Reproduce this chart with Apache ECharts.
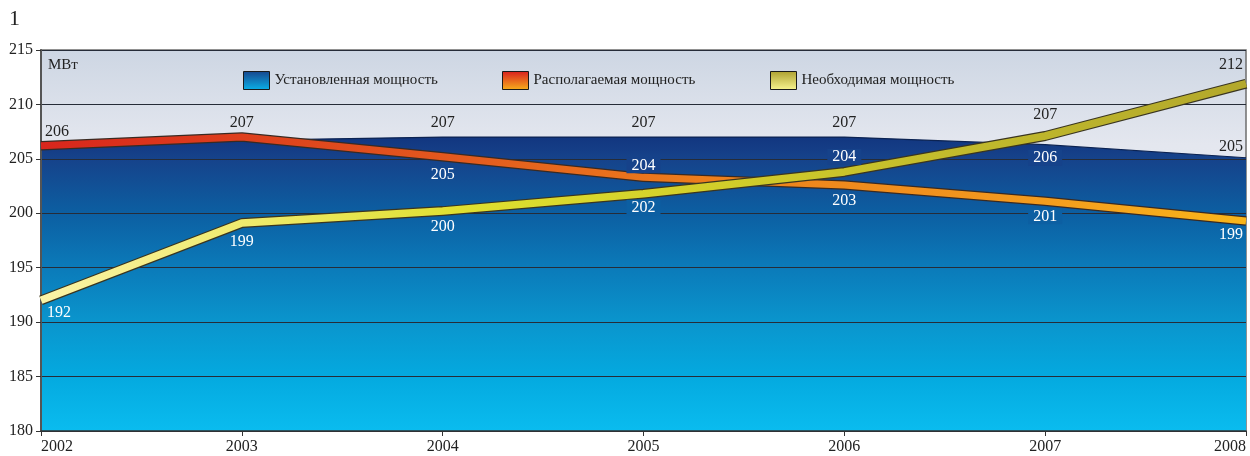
<!DOCTYPE html>
<html><head><meta charset="utf-8">
<script src="https://cdn.jsdelivr.net/npm/echarts@6/dist/echarts.min.js"></script>
<style>html,body{margin:0;padding:0;background:#fff}#c{width:1250px;height:456px}</style>
</head><body><div id="c"></div>
<script>
// ---- data ----
const years = ['2002', '2003', '2004', '2005', '2006', '2007', '2008'];
const installed = [205.9, 206.7, 207.0, 207.0, 207.0, 206.3, 205.1];
const available = [206.2, 207.0, 205.2, 203.3, 202.6, 201.1, 199.3];
const required  = [192.0, 199.1, 200.2, 201.8, 203.8, 207.1, 211.9];
const installedLabels = [null, null, 207, 207, 207, 206, 205];
const availableLabels = [206, 207, 205, 204, 203, 201, 199];
const requiredLabels  = [192, 199, 200, 202, 204, 207, 212];
const seriesNames = ['Установленная мощность', 'Располагаемая мощность', 'Необходимая мощность'];
const yMin = 180, yMax = 215, yStep = 5;
const chartTitle = '1';
const unitText = 'МВт';

// ---- styles ----
const FONT = 'Liberation Serif';
const DARK = '#222', WHITE = '#fff';
const BG205 = '#16428a', BG200 = '#0c5fa2';
function lg(dir, stops) {
  const c = dir === 'v' ? {x: 0, y: 0, x2: 0, y2: 1} : {x: 0, y: 0, x2: 1, y2: 0};
  return Object.assign({type: 'linear', global: false, colorStops: stops.map((s) => ({offset: s[0], color: s[1]}))}, c);
}
function lab(pos, dist, color, extra) {
  return Object.assign({show: true, position: pos, distance: dist, color: color,
    fontFamily: FONT, fontSize: 16}, extra || {});
}
const L = {align: 'left', offset: [4, 0]};
const R = {align: 'right', offset: [-3, 0]};
function bg(c) { return {backgroundColor: c, padding: [0, 5]}; }

const installedLabelStyle = [null, null,
  lab('top', 6, DARK), lab('top', 6, DARK), lab('top', 6, DARK),
  lab('bottom', 5, WHITE, bg(BG205)), lab('top', 3, DARK, R)];
const availableLabelStyle = [
  lab('top', 6, DARK, L), lab('top', 6, DARK),
  lab('bottom', 10, WHITE), lab('top', 4, WHITE, bg(BG205)), lab('bottom', 8, WHITE),
  lab('bottom', 7, WHITE, bg(BG200)), lab('bottom', 6, WHITE, R)];
const requiredLabelStyle = [
  lab('bottom', 4, WHITE, {align: 'left', offset: [6, 0]}), lab('bottom', 11, WHITE),
  lab('bottom', 8, WHITE), lab('bottom', 6, WHITE, bg(BG200)), lab('top', 7, WHITE, bg(BG205)),
  lab('top', 13, DARK), lab('top', 11, DARK, R)];

function withLabels(values, texts, styles) {
  return values.map((v, i) => {
    if (texts[i] == null || !styles[i]) return {value: v, label: {show: false}};
    const t = String(texts[i]);
    return {value: v, label: Object.assign({}, styles[i], {formatter: () => t})};
  });
}

const areaGrad = lg('v', [[0, '#123680'], [0.07, '#16428a'], [0.26, '#0c5fa2'], [0.44, '#0b7ab9'], [0.63, '#0a95cd'], [0.81, '#04a9df'], [1, '#0abcef']]);
const redGrad = lg('h', [[0, '#d8261c'], [0.35, '#e35a1e'], [0.55, '#ec7e1c'], [0.8, '#f3981e'], [1, '#f9b61a']]);
const yelGrad = lg('h', [[0, '#fbf3a8'], [0.18, '#eeea6a'], [0.35, '#dfdf30'], [0.55, '#d2cf2a'], [0.75, '#c2bb2c'], [1, '#b3a82c']]);

const labelSeriesBase = {symbol: 'circle', symbolSize: 0, showSymbol: true, showAllSymbol: true};

const option = {
  animation: false,
  title: [
    {text: chartTitle, left: 4, top: 3, textStyle: {fontFamily: FONT, fontSize: 22, fontWeight: 'normal', color: '#222'}},
    {text: unitText, left: 43, top: 53, textStyle: {fontFamily: FONT, fontSize: 15, fontWeight: 'normal', color: '#222'}}
  ],
  legend: [0, 1, 2].map((k) => ({
    left: [238, 497, 765][k], top: 66, itemWidth: 26, itemHeight: 18, selectedMode: false,
    textStyle: {fontFamily: FONT, fontSize: 15, color: '#222'},
    data: [{
      name: seriesNames[k], icon: 'rect',
      itemStyle: {
        color: [lg('v', [[0, '#17458c'], [1, '#0ab0e8']]), lg('v', [[0, '#d81e1e'], [1, '#f8b01c']]), lg('v', [[0, '#ada030'], [1, '#f8f590']])][k],
        borderColor: '#1a1a1a', borderWidth: 1
      }
    }]
  })),
  grid: {left: 41, right: 4, top: 50, bottom: 25, show: true, borderColor: '#6e6e6e', borderWidth: 1.5,
    backgroundColor: lg('v', [[0, '#cdd6e3'], [0.25, '#e4e7ef'], [1, '#eceef3']])},
  xAxis: {
    type: 'category', data: years, boundaryGap: false, z: 2,
    axisLine: {show: true, lineStyle: {color: '#333', width: 1.5}},
    axisTick: {show: true, length: 5, lineStyle: {color: '#333'}},
    axisLabel: {fontFamily: FONT, fontSize: 16, color: '#222', margin: 8, alignMinLabel: 'left', alignMaxLabel: 'right'},
    splitLine: {show: false}
  },
  yAxis: {
    type: 'value', min: yMin, max: yMax, interval: yStep, z: 2,
    axisLine: {show: true, lineStyle: {color: '#555', width: 2}},
    axisTick: {show: true, length: 5, lineStyle: {color: '#333'}},
    axisLabel: {fontFamily: FONT, fontSize: 16, color: '#222', margin: 8},
    splitLine: {show: true, lineStyle: {color: '#262c38', width: 1.2}}
  },
  series: [
    {name: seriesNames[0], type: 'line', z: 1, data: installed, symbol: 'none',
      lineStyle: {color: '#0c2352', width: 1.2}, areaStyle: {color: areaGrad, opacity: 1}, itemStyle: {color: '#15408a'}},
    {name: 'o1', type: 'line', z: 3, data: available, symbol: 'none', silent: true,
      lineStyle: {color: '#3a2a22', width: 9.5}},
    Object.assign({name: seriesNames[1], type: 'line', z: 4, data: withLabels(available, availableLabels, availableLabelStyle),
      lineStyle: {color: redGrad, width: 7}, itemStyle: {color: '#e35a1e'}}, labelSeriesBase),
    {name: 'o2', type: 'line', z: 5, data: required, symbol: 'none', silent: true,
      lineStyle: {color: '#3a3520', width: 10}},
    Object.assign({name: seriesNames[2], type: 'line', z: 6, data: withLabels(required, requiredLabels, requiredLabelStyle),
      lineStyle: {color: yelGrad, width: 7.5}, itemStyle: {color: '#d2cf2a'}}, labelSeriesBase),
    Object.assign({name: 'l1', type: 'line', z: 7, data: withLabels(installed, installedLabels, installedLabelStyle), silent: true,
      lineStyle: {opacity: 0, width: 0}, itemStyle: {color: '#15408a'}}, labelSeriesBase)
  ]
};
const chart = echarts.init(document.getElementById('c'), null, {renderer: 'canvas'});
chart.setOption(option);
</script>
</body></html>
